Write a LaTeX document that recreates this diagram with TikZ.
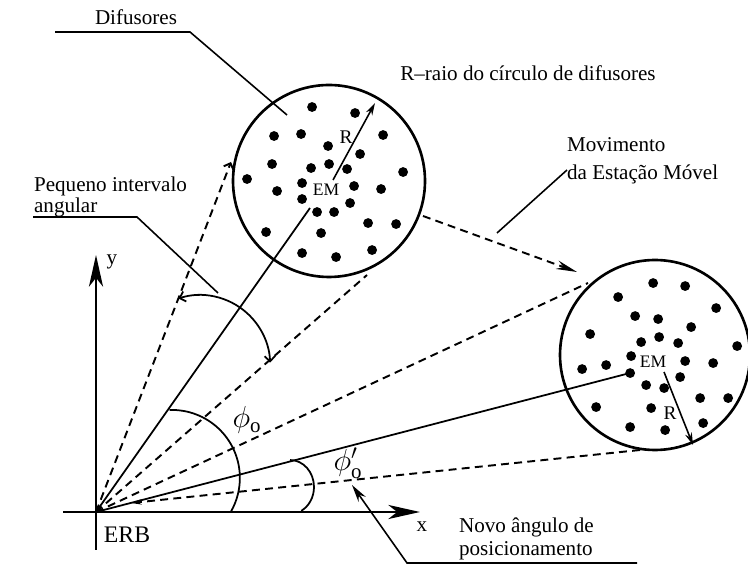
\documentclass[tikz,border=0pt]{standalone}
\usepackage{fontspec}
\setmainfont{Liberation Serif}
\usetikzlibrary{arrows.meta}

\begin{document}
\begin{tikzpicture}[every node/.style={font=\fontsize{12}{14}\selectfont,inner sep=1pt},axis/.style={line width=1.6pt,-{Stealth[length=18pt,width=8pt,inset=5pt]}},ray/.style={line width=1pt},tline/.style={line width=1.1pt,dash pattern=on 4.5pt off 3pt},rim/.style={line width=1.5pt},leader/.style={line width=0.9pt},rarrow/.style={line width=0.9pt,-{Stealth[length=7pt,width=4pt]}},sweep/.style={line width=1pt}]
  \useasboundingbox (0,0) rectangle (14.96,11.38);
  %axes
  \coordinate (O) at (1.92,1.14);
  \coordinate (xs) at (1.26,1.14);
  \coordinate (xe) at (8.40,1.14);
  \coordinate (ys) at (1.92,0.38);
  \coordinate (ye) at (1.92,6.28);
  \draw[axis] (xs) -- (xe);
  \draw[axis] (ys) -- (ye);
  \node (xlab) at (8.44,0.84) {x};
  \node (ylab) at (2.24,6.14) {y};
  \node[font=\fontsize{13.5}{16}\selectfont] (erb) at (2.54,0.68) {ERB};

  %circles
  \coordinate (c1) at (6.58,7.76);
  \coordinate (c2) at (13.10,4.28);
  \draw[rim] (c1) circle (1.92);
  \draw[rim] (c2) circle (1.90);
  \begin{scope}[shift={(0,11.38)},x=0.02cm,y=-0.02cm]
    \foreach \x/\y in {312/107,355/113,274/136,301/134,383/135,328/146,360/154,272/164,311/168,329/164,347/169,403/172,247/179,277/191,302/183,354/186,381/189,302/199,350/203,317/212,334/212,368/223,396/224,321/233,302/253,336/257,372/250,266/232}
      \fill (\x,\y) circle[radius=2.8pt];
    \foreach \x/\y in {653/283,685/286,618/297,716/308,635/316,658/319,691/327,590/334,641/342,659/337,678/343,737/346,631/356,685/361,713/363,582/369,606/365,630/373,680/377,646/385,664/388,596/407,651/408,700/398,728/398,630/427,665/430,703/423}
      \fill (\x,\y) circle[radius=2.8pt];
  \end{scope}

  %first position
  \node[font=\fontsize{10}{12}\selectfont] (em1) at (6.52,7.58) {EM};
  \coordinate (em1end) at (6.20,7.22);
  \draw[ray] (O) -- (em1end);
  \coordinate (r1s) at (6.66,7.78);
  \coordinate (r1e) at (7.50,9.32);
  \draw[rarrow] (r1s) -- (r1e);
  \node[font=\fontsize{11}{13}\selectfont] (r1lab) at (6.92,8.64) {R};
  %second position
  \node[font=\fontsize{10}{12}\selectfont] (em2) at (13.06,4.14) {EM};
  \coordinate (em2dot) at (12.60,3.92);
  \draw[ray] (O) -- (em2dot);
  \coordinate (r2s) at (13.28,3.94);
  \coordinate (r2e) at (13.86,2.48);
  \draw[rarrow] (r2s) -- (r2e);
  \node[font=\fontsize{11}{13}\selectfont] (r2lab) at (13.40,3.12) {R};

  %tangents
  \coordinate (t1) at (4.62,8.14);
  \coordinate (t2) at (7.34,5.88);
  \coordinate (t3) at (11.76,5.72);
  \coordinate (t4) at (12.80,2.38);
  \coordinate (t4o) at (2.62,1.32);
  \draw[tline,-{Straight Barb[length=3pt]}] (O) -- (t1);
  \draw[tline] (O) -- (t2);
  \draw[tline] (O) -- (t3);
  \draw[tline,-{Stealth[length=6pt,width=3pt]}] (t4) -- (t4o);
  %movement
  \coordinate (m1) at (8.46,7.06);
  \coordinate (m2) at (11.54,5.94);
  \draw[tline,-{Stealth[length=12pt,width=5pt]}] (m1) -- (m2);

  %angles
  \coordinate (a1) at (3.57,5.41);
  \coordinate (a2) at (3.39,3.18);
  \coordinate (a3) at (5.80,2.18);
  \draw[sweep,{Straight Barb[length=3pt]}-{Straight Barb[length=3pt]}] (a1) arc[start angle=108,end angle=2,radius=1.4];
  \draw[sweep] (a2) arc[start angle=92,end angle=-30,radius=1.36];
  \draw[sweep] (a3) arc[start angle=90,end angle=-62,x radius=0.48,y radius=0.54];
  \node[font=\fontsize{17}{20}\selectfont] (phi) at (4.94,2.98) {$\phi_{\mathrm{o}}$};
  \node[font=\fontsize{17}{20}\selectfont] (phinew) at (6.96,2.12) {$\phi'_{\mathrm{o}}$};

  %labels
  \node (difusores) at (2.72,11.04) {Difusores};
  \coordinate (dl1) at (1.10,10.74);
  \coordinate (dl2) at (3.80,10.74);
  \coordinate (dl3) at (5.74,9.08);
  \draw[leader] (dl1) -- (dl2) -- (dl3);
  \node (raio) at (10.56,9.92) {R--raio do círculo de difusores};
  \node[anchor=west,align=left,font=\fontsize{12}{16}\selectfont] (movimento) at (11.30,8.16) {Movimento\\da Estação Móvel};
  \coordinate (ml1) at (9.94,6.72);
  \coordinate (ml2) at (11.34,7.98);
  \draw[leader] (ml1) -- (ml2);
  \node[anchor=west,align=left,font=\fontsize{12}{11.5}\selectfont] (pequeno) at (0.64,7.44) {Pequeno intervalo\\angular};
  \coordinate (pl1) at (0.66,7.04);
  \coordinate (pl2) at (2.74,7.04);
  \coordinate (pl3) at (4.36,5.52);
  \draw[leader] (pl1) -- (pl2) -- (pl3);
  \node[anchor=west,align=left,font=\fontsize{12}{13}\selectfont] (novo) at (9.14,0.61) {Novo ângulo de\\posicionamento};
  \coordinate (nl1) at (12.74,0.12);
  \coordinate (nl2) at (8.14,0.12);
  \coordinate (nl3) at (7.04,1.68);
  \draw[leader,-{Stealth[length=10pt,width=5pt]}] (nl1) -- (nl2) -- (nl3);
\end{tikzpicture}
\end{document}
